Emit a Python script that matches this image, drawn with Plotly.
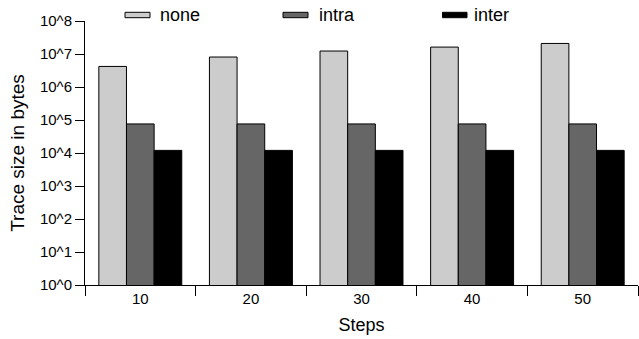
import plotly.graph_objects as go

steps = ["10", "20", "30", "40", "50"]
none_vals = [4.2e6, 8.1e6, 1.23e7, 1.62e7, 2.09e7]
intra_vals = [7.6e4, 7.6e4, 7.6e4, 7.6e4, 7.6e4]
inter_vals = [1.2e4, 1.2e4, 1.2e4, 1.2e4, 1.2e4]
series_names = ["none", "intra", "inter"]
series_colors = ["#cccccc", "#666666", "#000000"]
ytick_vals = [10 ** k for k in range(9)]
ytick_text = ["10^%d" % k for k in range(9)]

W, H = 639, 339
L, R, T, B = 85, 1, 21, 54
PW, PH = W - L - R, H - T - B

def px(x):
    return (x - L) / PW

def py(y):
    return (H - B - y) / PH

fig = go.Figure()
for name, vals, col in zip(series_names, [none_vals, intra_vals, inter_vals], series_colors):
    fig.add_trace(go.Bar(x=steps, y=vals, name=name, marker=dict(color=col, line=dict(color="black", width=1)),
                         showlegend=False))

font_family = "Liberation Sans, Arial, Helvetica, sans-serif"

# manual legend
legend_items = [(125, 150, 158), (283, 308, 317), (442.5, 467, 472)]
for (x0, x1, tx), name, col in zip(legend_items, series_names, series_colors):
    fig.add_shape(type="rect", xref="paper", yref="paper", x0=px(x0), x1=px(x1), y0=py(17.7), y1=py(12.3),
                  fillcolor=col, line=dict(color="black", width=1))
    fig.add_annotation(xref="paper", yref="paper", x=px(tx), y=py(15), text=name, showarrow=False,
                       xanchor="left", yanchor="middle", font=dict(size=18, color="black", family=font_family))

fig.update_layout(
    width=W, height=H,
    margin=dict(l=L, r=R, t=T, b=B, autoexpand=False),
    paper_bgcolor="white", plot_bgcolor="white",
    barmode="group", bargap=0.25, bargroupgap=0,
    font=dict(family=font_family, color="black"),
    xaxis=dict(
        type="category", tickson="boundaries", ticks="outside", ticklen=10, tickwidth=1, tickcolor="black",
        showline=True, linecolor="black", linewidth=1, showgrid=False, automargin=False,
        tickfont=dict(size=15),
        title=dict(text="Steps", font=dict(size=18), standoff=12),
    ),
    yaxis=dict(
        type="log", range=[0, 8], tickvals=ytick_vals, ticktext=ytick_text,
        ticks="outside", ticklen=9, tickwidth=1, tickcolor="black",
        showline=True, linecolor="black", linewidth=1, showgrid=False, zeroline=False, automargin=False,
        tickfont=dict(size=15),
        title=dict(text="Trace size in bytes", font=dict(size=19), standoff=10),
    ),
)

fig.write_html("out.html", config={"displayModeBar": False},
               post_script="document.body.style.margin='0';document.body.style.overflow='hidden';")
